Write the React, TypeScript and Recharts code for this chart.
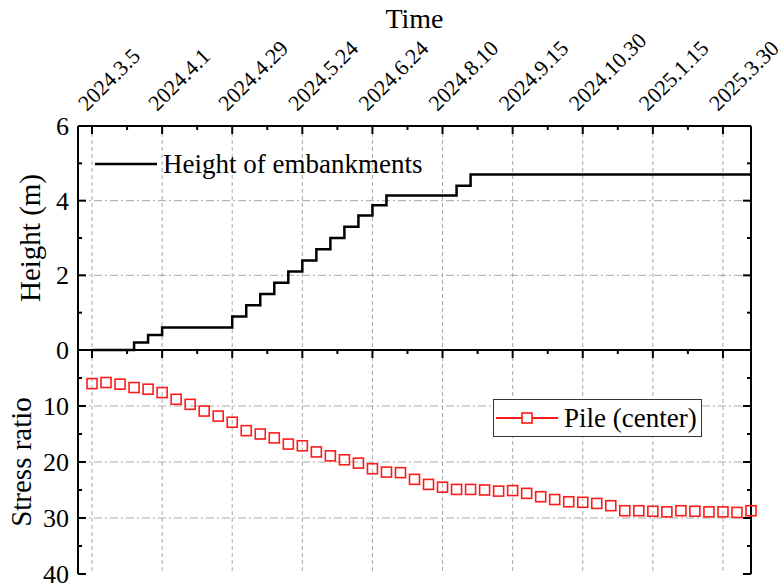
import React from 'react';
import { LineChart, Line, XAxis, YAxis, ReferenceLine, Legend } from 'recharts';

// sampling dates shown on the top axis (every 5th reading)
const dateLabels = [
  '2024.3.5', '2024.4.1', '2024.4.29', '2024.5.24', '2024.6.24',
  '2024.8.10', '2024.9.15', '2024.10.30', '2025.1.15', '2025.3.30'
];
const dateTicks = [0, 5, 10, 15, 20, 25, 30, 35, 40, 45];
const xTicks = [0, 2.5, 5, 7.5, 10, 12.5, 15, 17.5, 20, 22.5, 25, 27.5, 30, 32.5, 35, 37.5, 40, 42.5, 45];

// embankment height (m) per reading
const heightM = [
  0, 0, 0, 0.2, 0.4, 0.6, 0.6, 0.6, 0.6, 0.6,
  0.9, 1.2, 1.5, 1.8, 2.1, 2.4, 2.7, 3.0, 3.3, 3.6,
  3.88, 4.14, 4.14, 4.14, 4.14, 4.14, 4.4, 4.7, 4.7, 4.7,
  4.7, 4.7, 4.7, 4.7, 4.7, 4.7, 4.7, 4.7, 4.7, 4.7,
  4.7, 4.7, 4.7, 4.7, 4.7, 4.7, 4.7, 4.7
];

// pile (center) stress ratio per reading
const stressRatio = [
  6.0, 5.8, 6.1, 6.7, 7.0, 7.6, 8.8, 9.7, 10.9, 11.8,
  12.9, 14.4, 15.0, 15.7, 16.8, 17.1, 18.2, 18.9, 19.6, 20.2,
  21.2, 21.8, 21.9, 23.1, 24.0, 24.5, 24.9, 24.9, 25.0, 25.2,
  25.1, 25.6, 26.2, 26.7, 27.1, 27.2, 27.4, 27.8, 28.7, 28.7,
  28.8, 28.9, 28.7, 28.8, 28.9, 28.9, 29.0, 28.7
];

const heightTicks = [0, 1, 2, 3, 4, 5, 6];
const heightLabels = [0, 2, 4, 6];
const heightGrid = [2, 4];
const stressTicks = [0, 5, 10, 15, 20, 25, 30, 35, 40];
const stressLabels = [10, 20, 30, 40];
const stressGrid = [10, 20, 30];

const FONT = "'Liberation Serif', 'Times New Roman', serif";
const GRID = '#a8a8a8';
const RED = '#ff1a1a';

const heightData = heightM.map((h, i) => ({ i, h }));
const stressData = stressRatio.map((s, i) => ({ i, s }));

const axisLine = { stroke: '#000', strokeWidth: 2 };

function XTick(props: any) {
  const { x, y, payload, side, showLabels } = props;
  const k = dateTicks.indexOf(payload.value);
  const len = k >= 0 ? 8 : 4;
  const dir = side === 'top' ? 1 : -1;
  return (
    <g>
      <line x1={x} y1={y} x2={x} y2={y + dir * len} stroke="#000" strokeWidth={2} />
      {showLabels && k >= 0 && (
        <text
          transform={`translate(${x - 5},${y - 14}) rotate(-45)`}
          style={{ fontFamily: FONT, fontSize: 22 }}
          fill="#000"
        >
          {dateLabels[k]}
        </text>
      )}
    </g>
  );
}

function YTick(props: any) {
  const { x, y, payload, side, labels } = props;
  const major = payload.value % 2 === 0 || payload.value % 10 === 0;
  const len = major ? 8 : 4;
  const dir = side === 'left' ? 1 : -1;
  const show = labels && labels.indexOf(payload.value) >= 0;
  return (
    <g>
      <line x1={x} y1={y} x2={x + dir * len} y2={y} stroke="#000" strokeWidth={2} />
      {show && (
        <text x={x - 9} y={y} dy="0.34em" textAnchor="end" style={{ fontFamily: FONT, fontSize: 26 }} fill="#000">
          {payload.value}
        </text>
      )}
    </g>
  );
}

function SquareDot(props: any) {
  const { cx, cy, index } = props;
  return (
    <rect key={`sq-${index}`} x={cx - 5} y={cy - 5} width={10} height={10} fill="none" stroke={RED} strokeWidth={1.6} />
  );
}

const titleStyle = { fontFamily: FONT, fontSize: 29 };

export default function App() {
  return (
    <div style={{ position: 'absolute', left: 0, top: 0, width: 781, height: 584, background: '#fff', fontFamily: FONT }}>
      <div style={{ position: 'absolute', left: 0, top: 0 }}>
        <LineChart width={781} height={370} data={heightData} margin={{ top: 0, right: 0, bottom: 20, left: 0 }}>
          <XAxis
            xAxisId="top"
            dataKey="i"
            type="number"
            orientation="top"
            domain={[-1, 47]}
            ticks={xTicks}
            interval={0}
            height={126}
            tickSize={0}
            tickMargin={0}
            tickLine={false}
            axisLine={axisLine}
            tick={<XTick side="top" showLabels />}
            label={{ value: 'Time', position: 'insideTop', offset: 8, fill: '#000', style: { ...titleStyle, fontSize: 28 } }}
          />
          <XAxis
            xAxisId="bottom"
            type="number"
            orientation="bottom"
            domain={[-1, 47]}
            allowDataOverflow
            ticks={xTicks}
            interval={0}
            height={0}
            tickSize={0}
            tickMargin={0}
            tickLine={false}
            axisLine={axisLine}
            tick={<XTick side="bottom" />}
          />
          <YAxis
            yAxisId="left"
            type="number"
            domain={[0, 6]}
            ticks={heightTicks}
            interval={0}
            width={78}
            tickSize={0}
            tickMargin={0}
            tickLine={false}
            axisLine={axisLine}
            tick={<YTick side="left" labels={heightLabels} />}
            label={{
              value: 'Height (m)', angle: -90, position: 'insideLeft', offset: 30,
              fill: '#000', style: { ...titleStyle, textAnchor: 'middle' }
            }}
          />
          <YAxis
            yAxisId="right"
            type="number"
            orientation="right"
            domain={[0, 6]}
            allowDataOverflow
            ticks={heightTicks}
            interval={0}
            width={30}
            tickSize={0}
            tickMargin={0}
            tickLine={false}
            axisLine={axisLine}
            tick={<YTick side="right" />}
          />
          {dateTicks.map((t) => (
            <ReferenceLine key={`vx-${t}`} x={t} xAxisId="top" yAxisId="left" stroke={GRID} strokeWidth={1} strokeDasharray="4 3" />
          ))}
          {heightGrid.map((t) => (
            <ReferenceLine key={`hy-${t}`} y={t} xAxisId="top" yAxisId="left" stroke={GRID} strokeWidth={1} strokeDasharray="8 3 2 3" />
          ))}
          <Legend
            layout="horizontal"
            verticalAlign="middle"
            align="center"
            wrapperStyle={{ left: 95, top: 149, width: 400, height: 30 }}
            content={() => (
              <div style={{ display: 'flex', alignItems: 'center', height: 30, fontFamily: FONT, fontSize: 27, color: '#000' }}>
                <svg width={62} height={10}>
                  <line x1={0} y1={5} x2={62} y2={5} stroke="#000" strokeWidth={2.5} />
                </svg>
                <span style={{ marginLeft: 6, whiteSpace: 'nowrap' }}>Height of embankments</span>
              </div>
            )}
          />
          <Line
            xAxisId="top"
            yAxisId="left"
            type="stepAfter"
            dataKey="h"
            name="Height of embankments"
            stroke="#000"
            strokeWidth={2.5}
            dot={false}
            isAnimationActive={false}
          />
        </LineChart>
      </div>

      <div style={{ position: 'absolute', left: 0, top: 340 }}>
        <LineChart width={781} height={244} data={stressData} margin={{ top: 0, right: 0, bottom: 10, left: 0 }}>
          <XAxis
            xAxisId="top"
            dataKey="i"
            type="number"
            orientation="top"
            domain={[-1, 47]}
            ticks={xTicks}
            interval={0}
            height={10}
            tickSize={0}
            tickMargin={0}
            tickLine={false}
            axisLine={axisLine}
            tick={<XTick side="top" />}
          />
          <XAxis
            xAxisId="bottom"
            type="number"
            orientation="bottom"
            domain={[-1, 47]}
            allowDataOverflow
            ticks={xTicks}
            interval={0}
            height={0}
            tickSize={0}
            tickMargin={0}
            tickLine={false}
            axisLine={axisLine}
            tick={<XTick side="bottom" />}
          />
          <YAxis
            yAxisId="left"
            type="number"
            reversed
            domain={[0, 40]}
            ticks={stressTicks}
            interval={0}
            width={78}
            tickSize={0}
            tickMargin={0}
            tickLine={false}
            axisLine={axisLine}
            tick={<YTick side="left" labels={stressLabels} />}
            label={{
              value: 'Stress ratio', angle: -90, position: 'insideLeft', offset: 21,
              fill: '#000', style: { ...titleStyle, textAnchor: 'middle' }
            }}
          />
          <YAxis
            yAxisId="right"
            type="number"
            orientation="right"
            reversed
            domain={[0, 40]}
            allowDataOverflow
            ticks={stressTicks}
            interval={0}
            width={30}
            tickSize={0}
            tickMargin={0}
            tickLine={false}
            axisLine={axisLine}
            tick={<YTick side="right" />}
          />
          {dateTicks.map((t) => (
            <ReferenceLine key={`vx-${t}`} x={t} xAxisId="top" yAxisId="left" stroke={GRID} strokeWidth={1} strokeDasharray="4 3" />
          ))}
          {stressGrid.map((t) => (
            <ReferenceLine key={`hy-${t}`} y={t} xAxisId="top" yAxisId="left" stroke={GRID} strokeWidth={1} strokeDasharray="8 3 2 3" />
          ))}
          <Legend
            layout="horizontal"
            verticalAlign="middle"
            align="center"
            wrapperStyle={{ left: 493, top: 59, width: 209, height: 38 }}
            content={() => (
              <div
                style={{
                  display: 'flex', alignItems: 'center', boxSizing: 'border-box', width: 209, height: 38,
                  border: '1px solid #333', background: '#fff', fontFamily: FONT, fontSize: 27, color: '#000'
                }}
              >
                <svg width={66} height={14}>
                  <line x1={2} y1={7} x2={64} y2={7} stroke={RED} strokeWidth={2} />
                  <rect x={28} y={2} width={10} height={10} fill="#fff" stroke={RED} strokeWidth={1.6} />
                </svg>
                <span style={{ marginLeft: 4, whiteSpace: 'nowrap' }}>Pile (center)</span>
              </div>
            )}
          />
          <Line
            xAxisId="top"
            yAxisId="left"
            type="linear"
            dataKey="s"
            name="Pile (center)"
            stroke="none"
            strokeWidth={0}
            dot={<SquareDot />}
            activeDot={false}
            isAnimationActive={false}
          />
        </LineChart>
      </div>
    </div>
  );
}
